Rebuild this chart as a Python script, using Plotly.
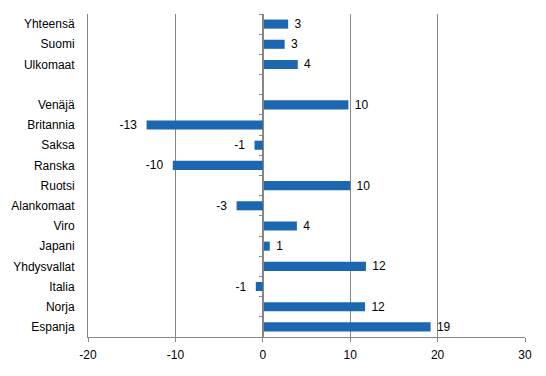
import math
import plotly.graph_objects as go

categories = ["Yhteensä", "Suomi", "Ulkomaat", " ", "Venäjä", "Britannia", "Saksa",
              "Ranska", "Ruotsi", "Alankomaat", "Viro", "Japani", "Yhdysvallat",
              "Italia", "Norja", "Espanja"]
values = [2.9, 2.5, 4.0, None, 9.8, -13.3, -0.95, -10.3, 10.0, -3.0, 3.9, 0.8,
          11.8, -0.8, 11.7, 19.2]
x_ticks = [-20, -10, 0, 10, 20, 30]
x_tick_text = ["-20", "-10", "0", "10", "20", "30"]

BAR = "#1b67b0"
GRID = "#878787"
FONT = "Liberation Sans, Arial, sans-serif"


def half_up(v):
    return int(math.copysign(math.floor(abs(v) + 0.5), v))


labels = []
for v in values:
    if v is None:
        labels.append("")
    elif v >= 0:
        labels.append(" " + str(half_up(v)))
    else:
        labels.append(str(half_up(v)) + "  ")

fig = go.Figure()
fig.add_trace(go.Bar(
    y=categories, x=values, orientation="h",
    marker=dict(color=BAR, line=dict(width=0)),
    text=labels, textposition="outside", constraintext="none",
    textfont=dict(family=FONT, size=12, color="#000000"),
    cliponaxis=False, hoverinfo="skip",
))
# helper trace for the zero axis with category-boundary ticks
fig.add_trace(go.Scatter(x=[0], y=[0], yaxis="y2", mode="markers",
                         marker=dict(opacity=0), hoverinfo="skip", showlegend=False))

n = len(categories)
fig.update_layout(
    width=538, height=368,
    margin=dict(l=80, r=21, t=6, b=39),
    paper_bgcolor="white", plot_bgcolor="white",
    bargap=0.55, showlegend=False,
    font=dict(family=FONT, size=12, color="#000000"),
    xaxis=dict(range=[-20, 30], tickvals=x_ticks, ticktext=x_tick_text,
               showgrid=True, gridcolor=GRID, automargin=False,
               gridwidth=1, zeroline=False, showline=True, linecolor=GRID, linewidth=1,
               ticks="outside", ticklen=4, tickcolor=GRID, ticklabelstandoff=3,
               tickfont=dict(size=12), fixedrange=True),
    yaxis=dict(type="category", categoryorder="array", categoryarray=categories,
               range=[n - 0.5, -0.5], showline=True, linecolor=GRID, linewidth=1,
               showgrid=False, zeroline=False, ticks="", ticklabelstandoff=10,
               automargin=False, tickfont=dict(size=12), fixedrange=True),
    yaxis2=dict(overlaying="y", anchor="free", position=0.4, side="left",
                range=[n - 0.5, -0.5], tickvals=[i - 0.5 for i in range(n + 1)],
                showticklabels=False, ticks="outside", ticklen=4, tickcolor=GRID,
                showline=True, linecolor=GRID, linewidth=1, showgrid=False,
                zeroline=False, automargin=False, fixedrange=True),
)

fig.write_html("out.html")
